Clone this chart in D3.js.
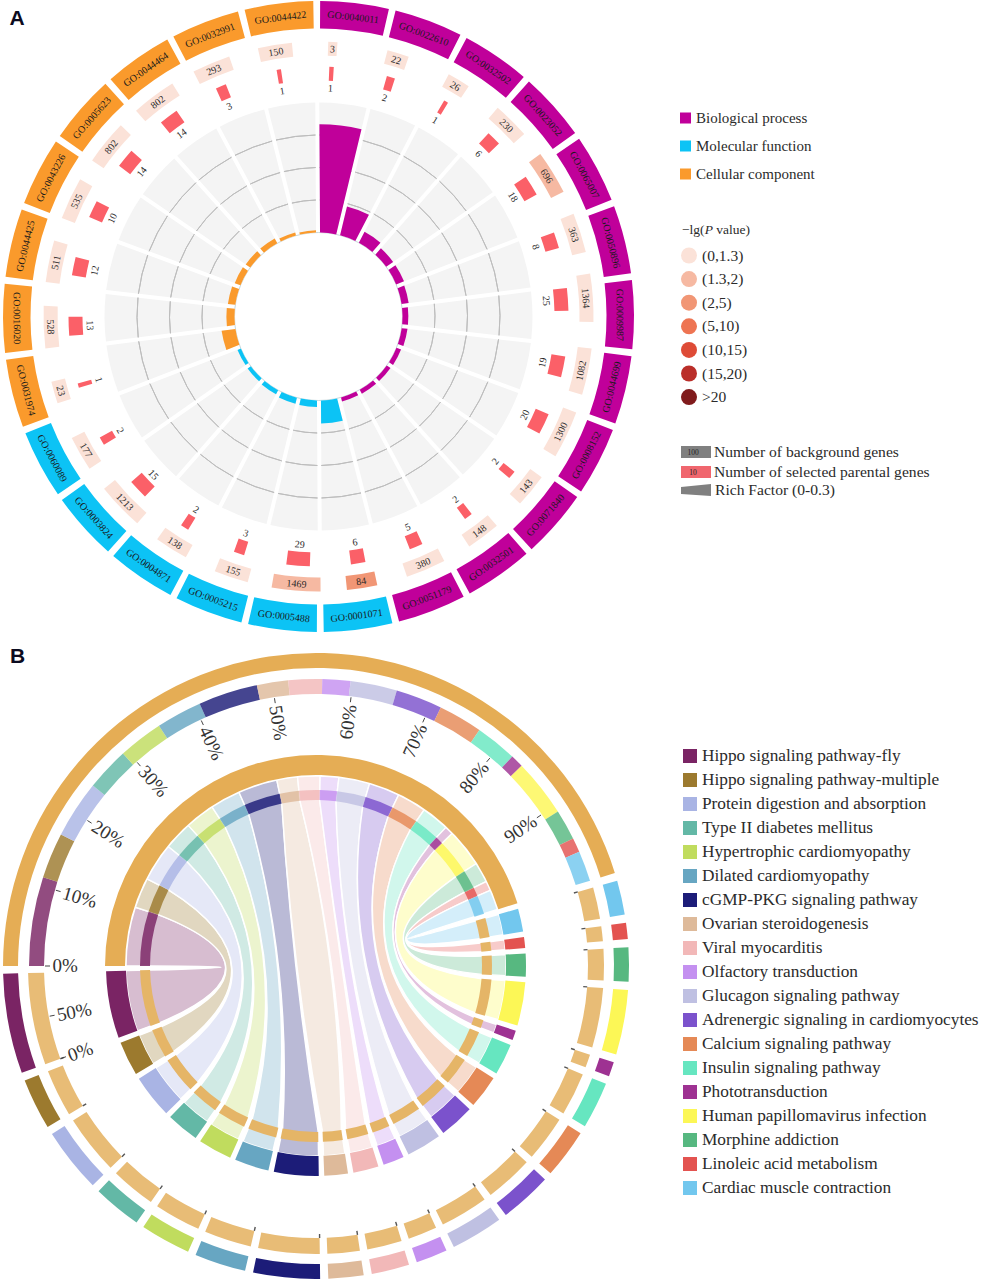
<!DOCTYPE html>
<html><head><meta charset="utf-8">
<script src="https://cdn.jsdelivr.net/npm/d3@7/dist/d3.min.js"></script>
<style>html,body{margin:0;padding:0;background:#fff}svg{display:block}text{font-family:'Liberation Serif',serif}</style>
</head><body><div id="c"></div>
<script>
// ---- Panel A data ----
const goIds=["GO:0040011","GO:0022610","GO:0032502","GO:0023052","GO:0065007","GO:0050896","GO:0009987","GO:0044699","GO:0008152","GO:0071840","GO:0032501","GO:0051179","GO:0001071","GO:0005488","GO:0005215","GO:0004871","GO:0003824","GO:0060089","GO:0031974","GO:0016020","GO:0044425","GO:0043226","GO:0005623","GO:0044464","GO:0032991","GO:0044422"];
const goCategory=[0,0,0,0,0,0,0,0,0,0,0,0,1,1,1,1,1,1,2,2,2,2,2,2,2,2];
const backgroundGenes=[3,22,26,230,696,363,1364,1082,1300,143,148,380,84,1469,155,138,1213,177,23,528,511,535,802,802,293,150];
const selectedGenes=[1,2,1,6,18,8,25,19,20,2,2,5,6,29,3,2,15,2,1,13,12,10,14,14,3,1];
const richFactor=[.333,.091,.038,.026,.026,.022,.018,.018,.015,.014,.014,.013,.071,.020,.019,.014,.012,.011,.043,.025,.023,.019,.017,.017,.010,.007];
const pLevel=[0,0,0,0,1,0,0,0,0,0,0,0,2,1,0,0,0,0,0,0,0,0,0,0,0,0];
const categoryNames=["Biological process","Molecular function","Cellular component"];
const categoryColors=["#c0009a","#0cc3f5","#fa9a2c"];
const pLabels=["(0,1.3)","(1.3,2)","(2,5)","(5,10)","(10,15)","(15,20)",">20"];
const pColors=["#fbe2d8","#f6b9a2","#f19675","#ee7452","#de4b36","#ba2e29","#801b1c"];
// ---- Panel B data ----
const pathways=["Hippo signaling pathway-fly","Hippo signaling pathway-multiple","Protein digestion and absorption","Type II diabetes mellitus","Hypertrophic cardiomyopathy","Dilated cardiomyopathy","cGMP-PKG signaling pathway","Ovarian steroidogenesis","Viral myocarditis","Olfactory transduction","Glucagon signaling pathway","Adrenergic signaling in cardiomyocytes","Calcium signaling pathway","Insulin signaling pathway","Phototransduction","Human papillomavirus infection","Morphine addiction","Linoleic acid metabolism","Cardiac muscle contraction"];
const pathwayShare=[11.1,5.7,7.2,5.4,5.6,5.7,7.4,3.9,4.2,3.5,5.8,5.8,5.5,5.2,1.6,7.2,3.8,1.8,3.8];
const pathwayColors=["#7a2464","#9c7a2e","#a9b4e4","#63b8a6","#c0dc5e","#67a6c2","#1c1c78","#deba9a","#f2b8b8","#c490f0","#bfc0e2","#7b52cc","#e58956","#66e6c0","#9e3292","#fcf756","#57b880","#e35350","#72c7ee"];
const topTicks=[0,10,20,30,40,50,60,70,80,90];

const W=982,H=1279,rad=Math.PI/180;
const svg=d3.select("#c").append("svg").attr("width",W).attr("height",H).attr("viewBox",`0 0 ${W} ${H}`);
const arc=(r0,r1,a0,a1)=>d3.arc()({innerRadius:r0,outerRadius:r1,startAngle:a0*rad,endAngle:a1*rad});
const txtCol="#2b2b2b";

svg.append("text").text("A").attr("x",9.5).attr("y",25).attr("font-size",21).attr("font-weight",700).style("font-family","'Liberation Sans',sans-serif").attr("fill","#0b0b20");
svg.append("text").text("B").attr("x",10).attr("y",663).attr("font-size",21).attr("font-weight",700).style("font-family","'Liberation Sans',sans-serif").attr("fill","#0b0b20");

// ---------- Panel A ----------
const gA=svg.append("g").attr("transform","translate(318.5,316.5)");
const band=d3.scaleBand().domain(goIds).range([-0.325,359.675]);
const step=band.bandwidth(), gapDeg=1.25;
const R0=84,R1=214;
const rich=d3.scaleLinear().domain([0,0.4]).range([R0,R1]);
const bgW=d3.scaleLog().domain([3,1469]).range([9,48]);
const redW=d3.scaleLog().domain([1,29]).range([4.3,23]);
const flip=a=>{a=(a+360)%360;return a>90&&a<270;};
const at=(r,a)=>`rotate(${a}) translate(0,${-r}) rotate(${flip(a)?180:0})`;
const padPx=4;
const padded=d3.arc().padAngle(padPx/R1).padRadius(R1);

gA.append("circle").attr("r",R0).attr("fill","none").attr("stroke","#b9cdd0").attr("stroke-width",.8);
goIds.forEach((id,i)=>{
  const b0=band(id), b1=b0+step;
  const a0=b0+gapDeg/2,a1=b1-gapDeg/2,m=(a0+a1)/2,mt=m-(i<7?3.6:1.9);
  const sec=(r)=>padded({innerRadius:R0,outerRadius:r,startAngle:b0*rad,endAngle:b1*rad});
  gA.append("path").attr("d",sec(R1)).attr("fill","#f4f4f4");
  rich.ticks(4).slice(1,4).forEach(t=>{
    const r=rich(t),off=(padPx/2)/r/rad;
    gA.append("path").attr("d",d3.arc()({innerRadius:r,outerRadius:r,startAngle:(b0+off)*rad,endAngle:(b1-off)*rad})).attr("fill","none").attr("stroke","#bdbdbd").attr("stroke-width",1);
  });
  gA.append("path").attr("d",sec(rich(richFactor[i]))).attr("fill",categoryColors[goCategory[i]]);
  gA.append("path").attr("d",arc(288,315.5,a0,a1)).attr("fill",categoryColors[goCategory[i]]);
  gA.append("text").text(id).attr("transform",at(301.5,m)).attr("text-anchor","middle").attr("dy","0.34em").attr("font-size",10).attr("fill","#1a1a1a");
  // background tile
  const hb=bgW(backgroundGenes[i])/268/rad/2;
  gA.append("path").attr("d",arc(261,275,mt-hb,mt+hb)).attr("fill",pColors[pLevel[i]]);
  gA.append("text").text(backgroundGenes[i]).attr("transform",at(268,mt)).attr("text-anchor","middle").attr("dy","0.34em").attr("font-size",10).attr("fill",txtCol);
  // selected tile
  const hr=redW(selectedGenes[i])/243/rad/2;
  gA.append("path").attr("d",arc(236,250,mt-hr,mt+hr)).attr("fill","#fb6068");
  gA.append("text").text(selectedGenes[i]).attr("transform",at(228.5,mt)).attr("text-anchor","middle").attr("dy","0.34em").attr("font-size",10).attr("fill",txtCol);
});

// Legend A
categoryNames.forEach((n,i)=>{
  const y=118+i*28;
  svg.append("rect").attr("x",680).attr("y",y-5.5).attr("width",11).attr("height",11).attr("fill",categoryColors[i]);
  svg.append("text").text(n).attr("x",696).attr("y",y+5).attr("font-size",15).attr("fill",txtCol);
});
const lt=svg.append("text").attr("x",682).attr("y",234).attr("font-size",13.5).attr("fill",txtCol);
lt.append("tspan").text("−lg(");lt.append("tspan").text("P").attr("font-style","italic");lt.append("tspan").text(" value)");
pLabels.forEach((n,i)=>{
  const y=255.5+i*23.6;
  svg.append("circle").attr("cx",689).attr("cy",y).attr("r",8).attr("fill",pColors[i]);
  svg.append("text").text(n).attr("x",702).attr("y",y+5).attr("font-size",15.5).attr("fill",txtCol);
});
svg.append("rect").attr("x",681).attr("y",446).attr("width",30).attr("height",12).attr("fill","#808080");
svg.append("text").text("100").attr("x",693).attr("y",455).attr("text-anchor","middle").attr("font-size",7.5).attr("fill","#222");
svg.append("text").text("Number of background genes").attr("x",714).attr("y",457).attr("font-size",15.6).attr("fill",txtCol);
svg.append("rect").attr("x",681).attr("y",466).attr("width",30).attr("height",12).attr("fill","#f0666e");
svg.append("text").text("10").attr("x",693).attr("y",475).attr("text-anchor","middle").attr("font-size",7.5).attr("fill","#222");
svg.append("text").text("Number of selected parental genes").attr("x",714).attr("y",477).attr("font-size",15.6).attr("fill",txtCol);
svg.append("path").attr("d",d3.line()([[681,487],[711,484],[711,496],[681,494]])+"Z").attr("fill","#808080");
svg.append("text").text("Rich Factor (0-0.3)").attr("x",715).attr("y",495).attr("font-size",15.6).attr("fill",txtCol);

// ---------- Panel B ----------
const gB=svg.append("g").attr("transform","translate(316,966)");
const total=d3.sum(pathwayShare);
const topScale=d3.scaleLinear().domain([0,total]).range([270,432.7]);
const spanScale=d3.scaleLinear().domain([0,total]).range([0,167.4]);
const gap=1.5;
let cum=0, bAng=268.6;
const segs=pathwayShare.map((v,i)=>{
  const s={i,v,t0:topScale(cum),t1:topScale(cum+v),b1:bAng,b0:bAng-spanScale(v)};
  cum+=v; bAng=s.b0-gap; return s;
});
const P=(r,a)=>[r*Math.sin(a*rad),-r*Math.cos(a*rad)];
function ribbonPath(s){
  const Ro=190,Ri=166,cR=24;
  const ctrl=(a,b)=>{const p=P(1,a),q=P(1,b);const x=p[0]+q[0],y=p[1]+q[1],l=Math.hypot(x,y)||1;return [cR*x/l,cR*y/l];};
  const p=d3.path();
  const ang=a=>(a-90)*rad;
  p.moveTo(...P(Ro,s.t0));
  p.arc(0,0,Ro,ang(s.t0),ang(s.t1));
  p.lineTo(...P(Ri,s.t1));
  const c1=ctrl(s.t1,s.b0);
  p.quadraticCurveTo(c1[0],c1[1],...P(Ri,s.b0));
  p.lineTo(...P(Ro,s.b0));
  p.arc(0,0,Ro,ang(s.b0),ang(s.b1));
  p.lineTo(...P(Ri,s.b1));
  const c2=ctrl(s.b1,s.t0);
  p.quadraticCurveTo(c2[0],c2[1],...P(Ri,s.t0));
  p.closePath();
  return p.toString();
}
segs.forEach(s=>{
  gB.append("path").attr("d",ribbonPath(s)).attr("fill",pathwayColors[s.i]).attr("fill-opacity",.3).attr("stroke","#fff").attr("stroke-width",1.4);
});
gB.append("path").attr("d",arc(298,313,270,432.7)).attr("fill","#e5ad55");
gB.append("path").attr("d",arc(191,211,270,432.7)).attr("fill","#e5ad55");
segs.forEach(s=>{
  const c=pathwayColors[s.i];
  gB.append("path").attr("d",arc(272,287,s.t0,s.t1)).attr("fill",c).attr("opacity",.82);
  gB.append("path").attr("d",arc(298,313,s.b0,s.b1)).attr("fill",c);
  gB.append("path").attr("d",arc(272,288,s.b0,s.b1)).attr("fill","#e8bc76");
  gB.append("path").attr("d",d3.line()([P(268,s.b0),P(272,s.b0)])).attr("stroke","#555").attr("stroke-width",1.4);
  gB.append("path").attr("d",arc(166,176,s.t0,s.t1)).attr("fill",c).attr("opacity",.82);
  gB.append("path").attr("d",arc(190,210,s.b0,s.b1)).attr("fill",c);
  gB.append("path").attr("d",arc(166,176,s.b0,s.b1)).attr("fill","#e5b567");
});
function tickLabel(a,txt){
  gB.append("path").attr("d",d3.line()([P(266,a),P(271,a)])).attr("stroke","#444").attr("stroke-width",1);
  const n=((a%360)+360)%360;
  const [x,y]=P(263.5,a);
  const left=n>180;
  gB.append("text").text(txt).attr("transform",`translate(${x},${y}) rotate(${left?n-270:n-90})`)
    .attr("text-anchor",left?"start":"end").attr("dy","0.34em").attr("font-size",19).attr("fill","#333");
}
topTicks.forEach(t=>tickLabel(topScale(t),t+"%"));
tickLabel(segs[0].b0,"0%");
tickLabel((segs[0].b0+segs[0].b1)/2,"50%");

// Legend B
pathways.forEach((n,i)=>{
  const y=756+i*24;
  svg.append("rect").attr("x",683).attr("y",y-7).attr("width",14).attr("height",14).attr("fill",pathwayColors[i]);
  svg.append("text").text(n).attr("x",702).attr("y",y+5).attr("font-size",17.3).attr("fill",txtCol);
});
</script></body></html>
